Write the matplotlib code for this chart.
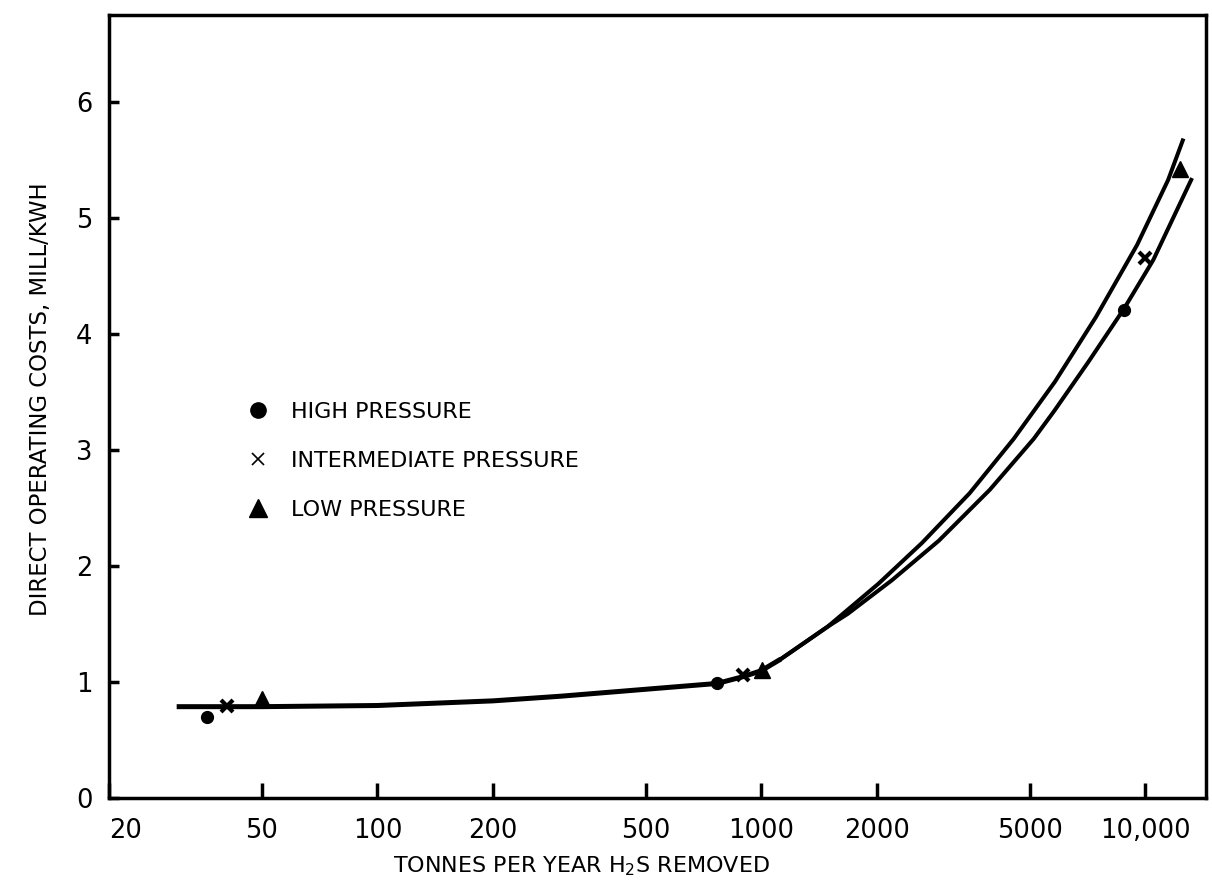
import matplotlib.pyplot as plt
from matplotlib.lines import Line2D
import numpy as np

# Valori (tone/an H2S, mill/kWh)
x_comun = [30, 50, 100, 200, 300, 500, 767, 900, 1000, 1124]
y_comun = [0.79, 0.79, 0.80, 0.84, 0.88, 0.94, 0.99, 1.05, 1.10, 1.20]

x_sus = [1124, 1490, 2020, 2620, 3490, 4550, 5820, 7450, 9530, 11480, 12530]
y_sus = [1.20, 1.48, 1.85, 2.20, 2.63, 3.10, 3.59, 4.15, 4.77, 5.33, 5.67]

x_jos = [1124, 1490, 1680, 2190, 2900, 3940, 5130, 5800, 7110, 8810, 10500, 13180]
y_jos = [1.20, 1.48, 1.59, 1.88, 2.22, 2.66, 3.10, 3.34, 3.76, 4.22, 4.64, 5.33]

x_high = [36, 767, 8810]
y_high = [0.70, 0.99, 4.21]
x_inter = [40.5, 898, 9980]
y_inter = [0.80, 1.06, 4.66]
x_low = [50, 1005, 12300]
y_low = [0.86, 1.11, 5.42]

xticks = [20, 50, 100, 200, 500, 1000, 2000, 5000, 10000]
xtick_labels = ['20', '50', '100', '200', '500', '1000', '2000', '5000', '10,000']
yticks = [0, 1, 2, 3, 4, 5, 6]

fig = plt.figure(figsize=(12.12, 8.9), dpi=100)
ax = fig.add_axes([0.09, 0.103, 0.905, 0.88])

ax.plot(x_comun, y_comun, color='black', lw=3.6, solid_capstyle='butt',
        solid_joinstyle='round')
ax.plot(x_sus, y_sus, color='black', lw=2.9, solid_joinstyle='round')
ax.plot(x_jos, y_jos, color='black', lw=2.9, solid_joinstyle='round')

ax.plot(x_high, y_high, 'o', color='black', ms=8.5)
ax.plot(x_inter, y_inter, 'x', color='black', ms=9, mew=3)
ax.plot(x_low, y_low, '^', color='black', ms=11)

ax.set_xscale('log')
ax.set_xlim(20, 14400)
ax.set_ylim(0, 6.75)
ax.set_xticks(xticks)
ax.set_xticklabels(xtick_labels)
ax.xaxis.set_minor_locator(plt.NullLocator())
ax.set_yticks(yticks)
ax.get_xticklabels()[0].set_ha('left')

ax.tick_params(axis='x', direction='in', length=11, width=2.5, pad=14, labelsize=18.5)
ax.tick_params(axis='y', direction='in', length=7, width=2.5, pad=12, labelsize=18.5)
for s in ax.spines.values():
    s.set_linewidth(2.5)

ax.set_ylabel('DIRECT OPERATING COSTS, MILL/KWH', fontsize=16.4)
ax.yaxis.set_label_coords(-0.052, 0.51)
ax.set_xlabel(r'TONNES PER YEAR H$_2$S REMOVED', fontsize=16)
ax.xaxis.set_label_coords(0.431, -0.072)

# legenda
handles = [
    Line2D([], [], marker='o', ls='none', color='black', ms=11),
    Line2D([], [], marker='x', ls='none', color='black', ms=8, mew=1.2),
    Line2D([], [], marker='^', ls='none', color='black', ms=13),
]
labels = ['HIGH PRESSURE', 'INTERMEDIATE PRESSURE', 'LOW PRESSURE']
ax.legend(handles, labels, loc='upper left', bbox_to_anchor=(0.126, 0.506),
          frameon=False, fontsize=16, labelspacing=1.3, handlelength=1.0,
          handletextpad=0.95, borderpad=0, borderaxespad=0)

fig.savefig('out.png', dpi=100)
